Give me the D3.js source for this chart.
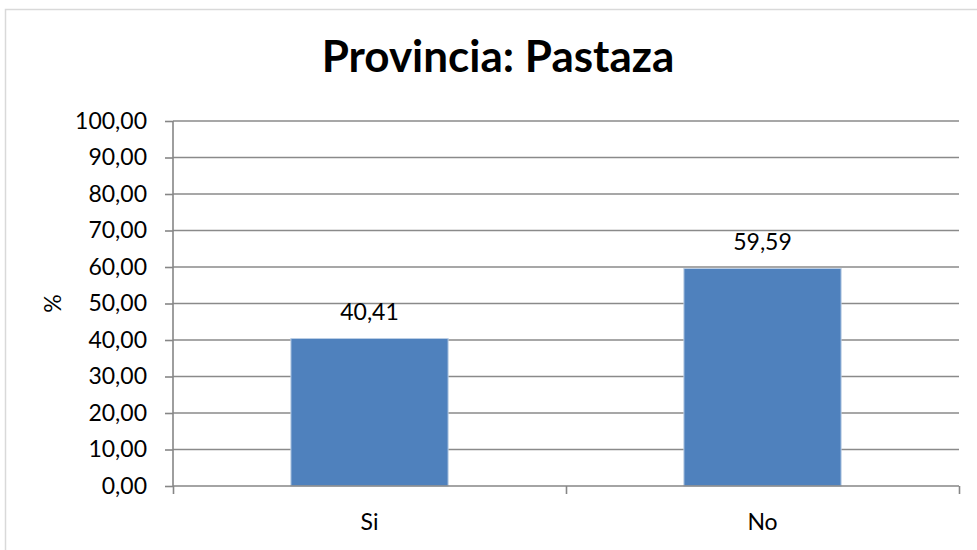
<!DOCTYPE html>
<html>
<head>
<meta charset="utf-8">
<script src="https://cdn.jsdelivr.net/npm/d3@7"></script>
<style>
  body { margin: 0; background: #fff; }
  text { font-family: Lato, "Open Sans", sans-serif; fill: #000; }
</style>
</head>
<body>
<div id="chart"></div>
<script>
// data
var categories = ["Si", "No"];
var values = [40.41, 59.59];
var yTicks = [0, 10, 20, 30, 40, 50, 60, 70, 80, 90, 100];
var title = "Provincia: Pastaza";

var W = 977, H = 550;
var margin = { top: 121, right: 18, bottom: 64, left: 173 },
  width = W - margin.left - margin.right,
  height = H - margin.top - margin.bottom;

var fmt = function (v) {
  return v.toFixed(2).replace(".", ",");
};

var svg = d3
  .select("#chart")
  .append("svg")
  .attr("width", W)
  .attr("height", H);

// chart border (cut off at the right / bottom)
svg
  .append("rect")
  .attr("x", 5.5)
  .attr("y", 9.5)
  .attr("width", 1000)
  .attr("height", 600)
  .attr("fill", "none")
  .attr("stroke", "#d9d9d9")
  .attr("stroke-width", 1.5);

svg
  .append("text")
  .attr("x", 498)
  .attr("y", 72)
  .attr("text-anchor", "middle")
  .style("font-size", "44px")
  .style("font-weight", "bold")
  .text(title);

var g = svg
  .append("g")
  .attr("transform", "translate(" + margin.left + "," + margin.top + ")");

// set the ranges
var x = d3.scaleBand().domain(categories).range([0, width]).paddingInner(0.6).paddingOuter(0.3);
var y = d3.scaleLinear().domain([0, 100]).range([height, 0]);

// gridlines
g.selectAll(".grid")
  .data(yTicks.slice(1))
  .enter()
  .append("line")
  .attr("class", "grid")
  .attr("x1", 0)
  .attr("x2", width)
  .attr("y1", function (d) { return y(d); })
  .attr("y2", function (d) { return y(d); })
  .attr("stroke", "#8a8a8a")
  .attr("stroke-width", 1.6);

// bars
g.selectAll(".bar")
  .data(values)
  .enter()
  .append("rect")
  .attr("class", "bar")
  .attr("x", function (d, i) { return x(categories[i]); })
  .attr("width", x.bandwidth())
  .attr("y", function (d) { return y(d); })
  .attr("height", function (d) { return height - y(d); })
  .attr("fill", "#4f81bd")
  .attr("stroke", "#b9cde5")
  .attr("stroke-width", 1);

// value labels
g.selectAll(".val")
  .data(values)
  .enter()
  .append("text")
  .attr("class", "val")
  .attr("x", function (d, i) { return x(categories[i]) + x.bandwidth() / 2; })
  .attr("y", function (d) { return y(d) - 27; })
  .attr("dy", "0.35em")
  .attr("text-anchor", "middle")
  .style("font-size", "23px")
  .text(fmt);

// y axis
var yAxis = g
  .append("g")
  .call(d3.axisLeft(y).tickValues(yTicks).tickSize(8).tickPadding(18).tickFormat(fmt));
yAxis.selectAll("line").attr("stroke", "#868686").attr("stroke-width", 1.6);
yAxis.select(".domain").attr("stroke", "#868686").attr("stroke-width", 1.6).attr("d", "M0," + height + "V0");
yAxis.selectAll("text").style("font-size", "23px").style("font-family", "Lato, sans-serif").attr("fill", "#000");

// x axis: ticks between categories
var xEdge = d3.scaleLinear().domain([0, categories.length]).range([0, width]);
var xAxisG = g.append("g").attr("transform", "translate(0," + height + ")");
xAxisG
  .call(d3.axisBottom(xEdge).ticks(categories.length).tickSize(8).tickFormat(""));
xAxisG.selectAll("line").attr("stroke", "#868686").attr("stroke-width", 1.6);
xAxisG.select(".domain").attr("stroke", "#868686").attr("stroke-width", 1.6).attr("d", "M0,0H" + width);

g.selectAll(".cat")
  .data(categories)
  .enter()
  .append("text")
  .attr("class", "cat")
  .attr("x", function (d) { return x(d) + x.bandwidth() / 2; })
  .attr("y", height + 36)
  .attr("dy", "0.35em")
  .attr("text-anchor", "middle")
  .style("font-size", "23px")
  .text(function (d) { return d; });

// y axis title
svg
  .append("text")
  .attr("transform", "translate(53," + (margin.top + y(50)) + ") rotate(-90)")
  .attr("text-anchor", "middle")
  .attr("dy", "0.35em")
  .style("font-size", "23px")
  .text("%");
</script>
</body>
</html>
